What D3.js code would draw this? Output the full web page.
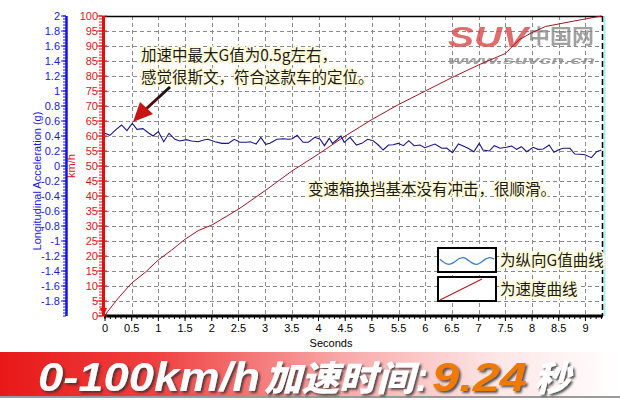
<!DOCTYPE html>
<html><head><meta charset="utf-8">
<script src="https://cdn.jsdelivr.net/npm/d3@7/dist/d3.min.js"></script>
<style>html,body{margin:0;padding:0;background:#fff;}svg{display:block;}</style>
</head><body>
<svg id="c" width="620" height="400"></svg>
<script>
// ---- data ----
const gTime = [0,0.09,0.21,0.31,0.41,0.51,0.60,0.71,0.81,0.90,1.00,1.10,1.20,1.31,1.40,1.52,1.62,1.75,1.85,1.93,2.06,2.19,2.31,2.42,2.53,2.65,2.72,2.83,2.92,3.01,3.09,3.22,3.34,3.43,3.51,3.60,3.71,3.81,3.93,4.03,4.11,4.20,4.26,4.34,4.42,4.48,4.59,4.71,4.81,4.92,5.02,5.12,5.21,5.31,5.40,5.49,5.59,5.69,5.79,5.90,5.99,6.18,6.31,6.40,6.51,6.62,6.71,6.80,6.91,7.01,7.08,7.20,7.29,7.40,7.52,7.62,7.71,7.80,7.90,8.02,8.11,8.21,8.32,8.41,8.49,8.58,8.71,8.80,8.90,8.99,9.11,9.21,9.30];
const gValue = [0.436,0.409,0.489,0.547,0.471,0.569,0.489,0.498,0.444,0.400,0.458,0.324,0.436,0.356,0.333,0.351,0.333,0.324,0.347,0.356,0.324,0.302,0.302,0.356,0.316,0.316,0.324,0.293,0.382,0.289,0.302,0.356,0.364,0.356,0.364,0.409,0.316,0.316,0.382,0.356,0.271,0.369,0.302,0.347,0.400,0.316,0.382,0.280,0.302,0.356,0.338,0.280,0.213,0.280,0.284,0.302,0.271,0.338,0.271,0.280,0.244,0.293,0.236,0.240,0.178,0.293,0.267,0.236,0.191,0.302,0.213,0.200,0.271,0.236,0.249,0.267,0.222,0.258,0.191,0.249,0.222,0.227,0.280,0.182,0.213,0.236,0.236,0.160,0.156,0.151,0.111,0.191,0.213];
const speedTime = [0,0.05,0.25,0.5,0.75,1.0,1.25,1.5,1.75,2.0,2.5,3.0,3.5,4.0,4.5,5.0,5.5,6.0,6.5,7.0,7.5,7.75,8.0,8.25,8.75,9.3];
const speedValue = [0,1.5,6,11,14.5,18.7,22,25.6,28.5,30.3,35.6,41.8,48.3,54,60,65.5,70.5,75,79.5,83.7,87.5,92,94.5,96.5,98.2,100];
const xTicks = d3.range(0, 9.01, 0.5);
const speedTicks = d3.range(0, 101, 5);
const gTicks = d3.range(-18, 21, 2).map(v => +(v/10).toFixed(1));
const xTitle = "Seconds";
const gTitle = "Longitudinal Acceleration (g)";
const speedTitle = "km/h";
const note1 = ["加速中最大G值为0.5g左右，", "感觉很斯文，符合这款车的定位。"];
const note2 = "变速箱换挡基本没有冲击，很顺滑。";
const legendLabels = ["为纵向G值曲线", "为速度曲线"];
const bannerParts = ["0-100km/h", "加速时间", ":", "9.24", "秒"];

// ---- chart ----
const svg = d3.select("#c");
const L = 105, R = 602, T = 16, B = 316;
const x = d3.scaleLinear().domain([0, 9.31]).range([L, R]);
const yS = d3.scaleLinear().domain([0, 100]).range([B, T]);
const yG = d3.scaleLinear().domain([-2, 2]).range([B, T]);
const defs = svg.append("defs");

svg.append("rect").attr("x", L).attr("y", T).attr("width", R - L).attr("height", B - T).attr("fill", "#fff");

// grid
const grid = svg.append("g").attr("stroke", "#8a8a8a").attr("stroke-width", 1).attr("stroke-dasharray", "4,3").attr("shape-rendering", "crispEdges");
grid.selectAll(".v").data(xTicks.filter(d => d > 0)).join("line")
  .attr("x1", d => Math.round(x(d)) + 0.5).attr("x2", d => Math.round(x(d)) + 0.5).attr("y1", T).attr("y2", B);
grid.selectAll(".h").data(speedTicks.filter(d => d > 0 && d < 100)).join("line")
  .attr("y1", d => Math.round(yS(d)) + 0.5).attr("y2", d => Math.round(yS(d)) + 0.5).attr("x1", L).attr("x2", R);

// borders
svg.append("line").attr("x1", L).attr("x2", R).attr("y1", T + 0.5).attr("y2", T + 0.5).attr("stroke", "#000").attr("stroke-width", 1.5);
svg.append("line").attr("x1", R + 2.5).attr("x2", R + 2.5).attr("y1", T).attr("y2", B).attr("stroke", "#aef0f0").attr("stroke-width", 2);
svg.append("line").attr("x1", R + 0.5).attr("x2", R + 0.5).attr("y1", T).attr("y2", B).attr("stroke", "#000").attr("stroke-width", 1.5).attr("stroke-dasharray", "6,3");

// watermark logo
const logo = svg.append("g").attr("opacity", 0.8);
logo.append("text").attr("x", 448).attr("y", 47).text("SUV")
  .attr("font-family", "Liberation Sans, Arial").attr("font-weight", "bold").attr("font-style", "italic")
  .attr("font-size", 29).attr("fill", "#d94848").attr("textLength", 80).attr("lengthAdjust", "spacingAndGlyphs");
logo.append("text").attr("x", 528).attr("y", 44).text("中国网")
  .attr("font-family", "Noto Sans CJK SC").attr("font-weight", "bold").attr("font-size", 20).attr("fill", "#8a8a8a")
  .attr("textLength", 66).attr("lengthAdjust", "spacingAndGlyphs");
logo.append("text").attr("x", 448).attr("y", 64).text("www.suvcn.cn")
  .attr("font-family", "Liberation Sans, Arial").attr("font-weight", "bold").attr("font-style", "italic")
  .attr("font-size", 11).attr("fill", "#8a8a8a").attr("textLength", 147).attr("lengthAdjust", "spacingAndGlyphs");

// lines
const speedData = speedTime.map((t, i) => [t, speedValue[i]]);
const gData = gTime.map((t, i) => [t, gValue[i]]);
svg.append("path").datum(speedData).attr("fill", "none").attr("stroke", "#a3161e").attr("stroke-width", 1)
  .attr("d", d3.line().x(d => x(d[0])).y(d => yS(d[1])));
svg.append("path").datum(gData).attr("fill", "none").attr("stroke", "#15158a").attr("stroke-width", 1.1)
  .attr("d", d3.line().x(d => x(d[0])).y(d => yG(d[1])));

// x axis
const xa = svg.append("g");
xa.selectAll(".mn").data(d3.range(0, 9.31, 0.1)).join("line")
  .attr("x1", d => x(d)).attr("x2", d => x(d)).attr("y1", B).attr("y2", B + 3).attr("stroke", "#000");
xa.selectAll(".mj").data(xTicks).join("line")
  .attr("x1", d => x(d)).attr("x2", d => x(d)).attr("y1", B).attr("y2", B + 5).attr("stroke", "#000");
xa.selectAll("text").data(xTicks).join("text")
  .attr("x", d => x(d)).attr("y", 332).attr("text-anchor", "middle")
  .attr("font-family", "Liberation Sans, Arial").attr("font-size", 11).attr("fill", "#000").text(d => d);
svg.append("line").attr("x1", L - 1).attr("x2", R + 1).attr("y1", B).attr("y2", B).attr("stroke", "#000").attr("stroke-width", 3);
svg.append("text").attr("x", 331).attr("y", 347).attr("text-anchor", "middle")
  .attr("font-family", "Liberation Sans, Arial").attr("font-size", 11).text(xTitle);

// speed axis (red)
const sa = svg.append("g");
sa.selectAll(".mn").data(d3.range(0, 101, 1)).join("line")
  .attr("x1", L - 6).attr("x2", L - 3).attr("y1", d => yS(d)).attr("y2", d => yS(d)).attr("stroke", "#e01010");
sa.selectAll(".mj").data(speedTicks).join("line")
  .attr("x1", L - 8).attr("x2", L + 2).attr("y1", d => yS(d)).attr("y2", d => yS(d)).attr("stroke", "#e01010");
sa.selectAll("text").data(speedTicks).join("text")
  .attr("x", 98).attr("y", d => yS(d) + 4).attr("text-anchor", "end")
  .attr("font-family", "Liberation Sans, Arial").attr("font-size", 11).attr("fill", "#e01414").text(d => d);
svg.append("line").attr("x1", L - 1.5).attr("x2", L - 1.5).attr("y1", T).attr("y2", B).attr("stroke", "#e01010").attr("stroke-width", 3);
svg.append("path").attr("d", `M${L - 5},${B - 8} L${L + 2},${B - 8} L${L - 1.5},${B}Z`).attr("fill", "#e01010");
svg.append("text").attr("transform", `translate(75,166) rotate(-90)`).attr("text-anchor", "middle")
  .attr("font-family", "Liberation Sans, Arial").attr("font-size", 11).attr("fill", "#e01414").text(speedTitle);

// G axis (blue)
const GA = 66;
const ga = svg.append("g");
ga.selectAll(".mn").data(d3.range(-50, 51, 1).map(v => v / 25)).join("line")
  .attr("x1", GA - 3).attr("x2", GA).attr("y1", d => yG(d)).attr("y2", d => yG(d)).attr("stroke", "#1414e0");
ga.selectAll(".mj").data(gTicks).join("line")
  .attr("x1", GA - 5).attr("x2", GA).attr("y1", d => yG(d)).attr("y2", d => yG(d)).attr("stroke", "#1414e0");
ga.selectAll("text").data(gTicks).join("text")
  .attr("x", 60).attr("y", d => yG(d) + 4).attr("text-anchor", "end")
  .attr("font-family", "Liberation Sans, Arial").attr("font-size", 11).attr("fill", "#1a1ad8").text(d => d);
svg.append("line").attr("x1", GA + 0.5).attr("x2", GA + 0.5).attr("y1", T).attr("y2", B).attr("stroke", "#1414e0").attr("stroke-width", 2.5);
svg.append("text").attr("transform", `translate(41,181) rotate(-90)`).attr("text-anchor", "middle")
  .attr("font-family", "Liberation Sans, Arial").attr("font-size", 11).attr("fill", "#1a1ad8").text(gTitle);

// annotations
function halo(sel) {
  return sel.attr("font-family", "Noto Sans CJK SC").attr("font-size", 15.5).attr("fill", "#1a1a1a")
    .attr("stroke", "#fffbd8").attr("stroke-width", 4).attr("stroke-linejoin", "round").attr("paint-order", "stroke");
}
note1.forEach((s, i) => halo(svg.append("text").attr("x", 141).attr("y", 61 + i * 22).text(s)));
halo(svg.append("text").attr("x", 308).attr("y", 195).text(note2));

// arrow
const ag = defs.append("linearGradient").attr("id", "ag").attr("gradientUnits", "userSpaceOnUse")
  .attr("x1", 170).attr("y1", 87).attr("x2", 134).attr("y2", 121);
ag.append("stop").attr("offset", 0).attr("stop-color", "#111");
ag.append("stop").attr("offset", 0.55).attr("stop-color", "#5a0a0a");
ag.append("stop").attr("offset", 1).attr("stop-color", "#e01010");
svg.append("line").attr("x1", 170).attr("y1", 87).attr("x2", 146).attr("y2", 109).attr("stroke", "url(#ag)").attr("stroke-width", 3);
svg.append("path").attr("d", "M133,122 L140,102 L153,114 Z").attr("fill", "#c81414");

// legend
const lg = svg.append("g");
[0, 1].forEach(i => {
  lg.append("rect").attr("x", 438).attr("y", 248 + i * 29).attr("width", 58).attr("height", 24)
    .attr("fill", "#fff").attr("stroke", "#000").attr("stroke-width", 2);
  halo(lg.append("text").attr("x", 500).attr("y", 266 + i * 29).attr("font-size", 15).text(legendLabels[i]));
});
const wave = d3.range(0, 1.001, 0.05).map(u => [440 + u * 54, 261 + 3.5 * Math.sin(u * 12.5 - 0.5)]);
lg.append("path").attr("d", d3.line().curve(d3.curveBasis)(wave)).attr("fill", "none").attr("stroke", "#3a7fc4").attr("stroke-width", 1.3);
lg.append("line").attr("x1", 440).attr("y1", 300).attr("x2", 482).attr("y2", 279).attr("stroke", "#b01a22").attr("stroke-width", 1.2);

// banner
const bg = defs.append("linearGradient").attr("id", "bg").attr("x1", 0).attr("x2", 1);
bg.append("stop").attr("offset", 0).attr("stop-color", "#e81818");
bg.append("stop").attr("offset", 0.25).attr("stop-color", "#f04040");
bg.append("stop").attr("offset", 0.55).attr("stop-color", "#f8a8a8");
bg.append("stop").attr("offset", 0.8).attr("stop-color", "#fde6e6");
bg.append("stop").attr("offset", 1).attr("stop-color", "#ffffff");
svg.append("rect").attr("x", 0).attr("y", 352).attr("width", 620).attr("height", 44).attr("fill", "url(#bg)");
svg.append("rect").attr("x", 0).attr("y", 396).attr("width", 620).attr("height", 2).attr("fill", "#9a9a9a");
const sh = defs.append("filter").attr("id", "sh").attr("x", "-10%").attr("y", "-30%").attr("width", "130%").attr("height", "160%");
sh.append("feDropShadow").attr("dx", 2).attr("dy", 2).attr("stdDeviation", 1.2).attr("flood-color", "#333").attr("flood-opacity", 0.8);
const bt = svg.append("g").attr("filter", "url(#sh)");
const bannerPos = [[38, 222, "Liberation Sans, Arial", "#fff"], [264, 150, "Noto Sans CJK SC", "#fff"], [416, 12, "Liberation Sans, Arial", "#fff"], [432, 95, "Liberation Sans, Arial", "#f07a00"], [534, 36, "Noto Sans CJK SC", "#fff"]];
bannerParts.forEach((s, i) => {
  const p = bannerPos[i];
  bt.append("text").attr("x", p[0]).attr("y", 391).text(s)
    .attr("font-family", p[2]).attr("font-weight", "900").attr("font-style", "italic")
    .attr("font-size", p[2].startsWith("Noto") ? 35 : 40).attr("fill", p[3])
    .attr("textLength", p[1]).attr("lengthAdjust", "spacingAndGlyphs");
});
</script>
</body></html>
